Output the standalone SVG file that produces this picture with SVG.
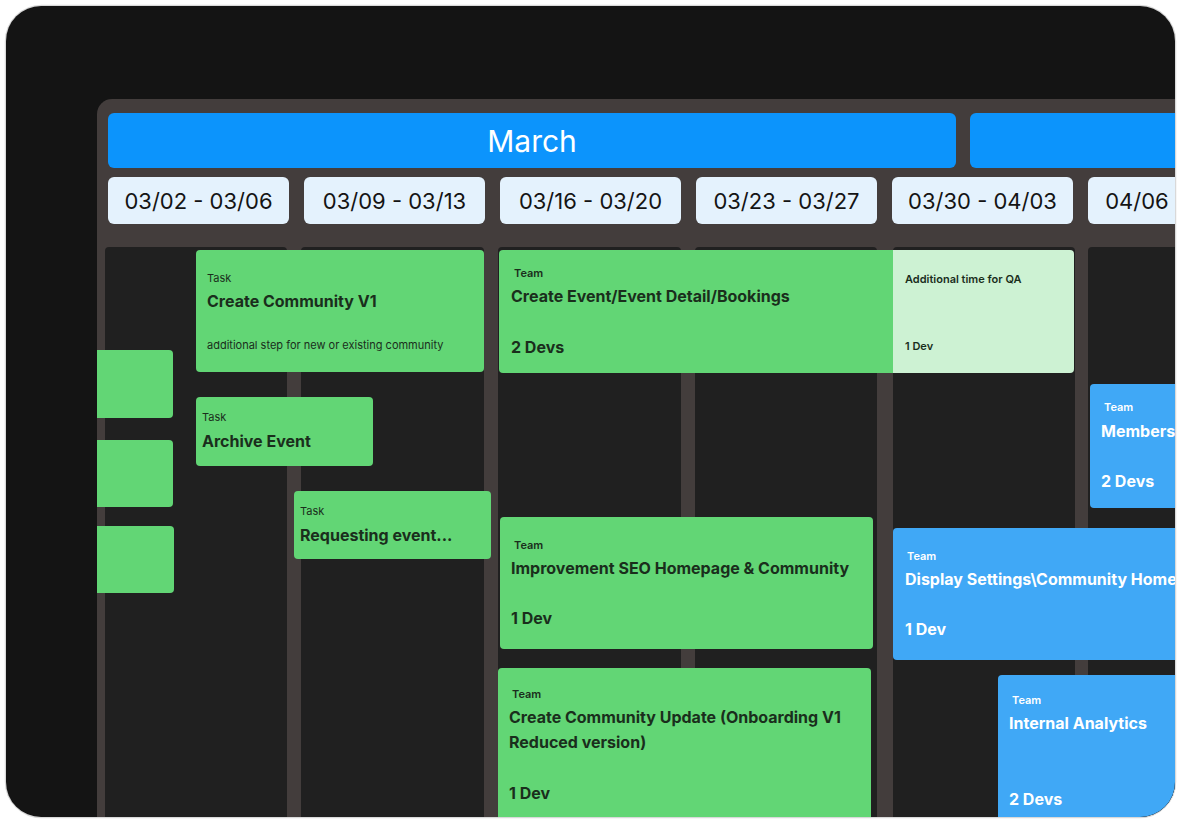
<svg xmlns="http://www.w3.org/2000/svg" width="1181" height="823" viewBox="0 0 1181 823">
<defs>
<clipPath id="outerClip"><rect x="6" y="6" width="1169" height="811" rx="35"/></clipPath>
<style>
.week{fill:#e4f2fd}
.weekt{font-family:Inter,"Liberation Sans",sans-serif;font-size:22px;fill:#141414;text-anchor:middle}
.col{fill:#202020}
.g{fill:#62d675}
.lg{fill:#cdf2d3}
.b{fill:#40a8f6}
.gs{font-family:Inter,"Liberation Sans",sans-serif;font-size:11px;fill:#1a2e1c}
.gsb{font-family:Inter,"Liberation Sans",sans-serif;font-size:11px;font-weight:600;fill:#1a2e1c}
.gt{font-family:Inter,"Liberation Sans",sans-serif;font-size:16px;font-weight:700;fill:#1a2e1c}
.bs{font-family:Inter,"Liberation Sans",sans-serif;font-size:11px;font-weight:600;fill:#ffffff}
.bt{font-family:Inter,"Liberation Sans",sans-serif;font-size:16px;font-weight:700;fill:#ffffff}
</style>
</defs>
<rect width="1181" height="823" fill="#ffffff"/>
<rect x="5.5" y="5.5" width="1170" height="812" rx="36" fill="none" stroke="#d9d9d9" stroke-width="1.5"/>
<g clip-path="url(#outerClip)">
<rect x="6" y="6" width="1169" height="811" fill="#141414"/>
<g id="panel">
<rect x="97" y="99" width="1120" height="760" rx="15" fill="#433d3c"/>
</g>
<g id="month-march">
<rect x="108" y="113" width="848" height="55" rx="6" fill="#0c94fc"/>
<text x="532" y="152" font-family="Inter,'Liberation Sans',sans-serif" font-size="30" fill="#ffffff" text-anchor="middle">March</text>
</g>
<g id="month-april">
<rect x="970" y="113" width="260" height="55" rx="6" fill="#0c94fc"/>
</g>
<g id="weeks">
<rect class="week" x="108" y="177" width="181" height="47" rx="6"/>
<text class="weekt" x="198.5" y="209">03/02 - 03/06</text>
<rect class="week" x="304" y="177" width="181" height="47" rx="6"/>
<text class="weekt" x="394.5" y="209">03/09 - 03/13</text>
<rect class="week" x="500" y="177" width="181" height="47" rx="6"/>
<text class="weekt" x="590.5" y="209">03/16 - 03/20</text>
<rect class="week" x="696" y="177" width="181" height="47" rx="6"/>
<text class="weekt" x="786.5" y="209">03/23 - 03/27</text>
<rect class="week" x="892" y="177" width="181" height="47" rx="6"/>
<text class="weekt" x="982.5" y="209">03/30 - 04/03</text>
<rect class="week" x="1088" y="177" width="181" height="47" rx="6"/>
<text class="weekt" x="1137" y="209">04/06</text>
</g>
<g id="columns">
<rect class="col" x="105" y="247" width="182" height="600" rx="4"/>
<rect class="col" x="301" y="247" width="183" height="600" rx="4"/>
<rect class="col" x="498" y="247" width="183" height="600" rx="4"/>
<rect class="col" x="695" y="247" width="182" height="600" rx="4"/>
<rect class="col" x="893" y="247" width="182" height="600" rx="4"/>
<rect class="col" x="1088" y="247" width="182" height="600" rx="4"/>
</g>
<g id="left-cards">
<path class="g" d="M97 350 H169 a4 4 0 0 1 4 4 V414 a4 4 0 0 1 -4 4 H97 Z"/>
<path class="g" d="M97 440 H169 a4 4 0 0 1 4 4 V503 a4 4 0 0 1 -4 4 H97 Z"/>
<path class="g" d="M97 526 H170 a4 4 0 0 1 4 4 V589 a4 4 0 0 1 -4 4 H97 Z"/>
</g>
<g id="card-create-community">
<rect class="g" x="196" y="250" width="288" height="122" rx="4"/>
<text class="gs" x="207" y="282">Task</text>
<text class="gt" x="207" y="307">Create Community V1</text>
<text class="gs" x="207" y="349">additional step for new or existing community</text>
</g>
<g id="card-archive-event">
<rect class="g" x="196" y="397" width="177" height="69" rx="4"/>
<text class="gs" x="202" y="421">Task</text>
<text class="gt" x="202" y="447">Archive Event</text>
</g>
<g id="card-requesting-event">
<rect class="g" x="294" y="491" width="197" height="68" rx="4"/>
<text class="gs" x="300" y="515">Task</text>
<text class="gt" x="300" y="541">Requesting event...</text>
</g>
<g id="card-create-event">
<rect class="g" x="499" y="250" width="400" height="123" rx="4"/>
<text class="gsb" x="514" y="277">Team</text>
<text class="gt" x="511" y="302">Create Event/Event Detail/Bookings</text>
<text class="gt" x="511" y="353">2 Devs</text>
</g>
<g id="card-qa">
<rect class="lg" x="893" y="250" width="181" height="123" rx="4"/>
<rect class="lg" x="893" y="250" width="8" height="123"/>
<text class="gsb" x="905" y="283">Additional time for QA</text>
<text class="gsb" x="905" y="350">1 Dev</text>
</g>
<g id="card-members">
<rect class="b" x="1090" y="384" width="140" height="124" rx="4"/>
<text class="bs" x="1104" y="411">Team</text>
<text class="bt" x="1101" y="437">Members</text>
<text class="bt" x="1101" y="487">2 Devs</text>
</g>
<g id="card-seo">
<rect class="g" x="500" y="517" width="373" height="132" rx="4"/>
<text class="gsb" x="514" y="549">Team</text>
<text class="gt" x="511" y="574">Improvement SEO Homepage &amp; Community</text>
<text class="gt" x="511" y="624">1 Dev</text>
</g>
<g id="card-community-update">
<rect class="g" x="498" y="668" width="373" height="180" rx="4"/>
<text class="gsb" x="512" y="698">Team</text>
<text class="gt" x="509" y="723">Create Community Update (Onboarding V1</text>
<text class="gt" x="509" y="748">Reduced version)</text>
<text class="gt" x="509" y="799">1 Dev</text>
</g>
<g id="card-display-settings">
<rect class="b" x="893" y="528" width="320" height="132" rx="4"/>
<text class="bs" x="907" y="560">Team</text>
<text class="bt" x="905" y="585">Display Settings\Community Home</text>
<text class="bt" x="905" y="635">1 Dev</text>
</g>
<g id="card-internal-analytics">
<rect class="b" x="998" y="675" width="220" height="180" rx="4"/>
<text class="bs" x="1012" y="704">Team</text>
<text class="bt" x="1009" y="729">Internal Analytics</text>
<text class="bt" x="1009" y="805">2 Devs</text>
</g>
</g>
</svg>
